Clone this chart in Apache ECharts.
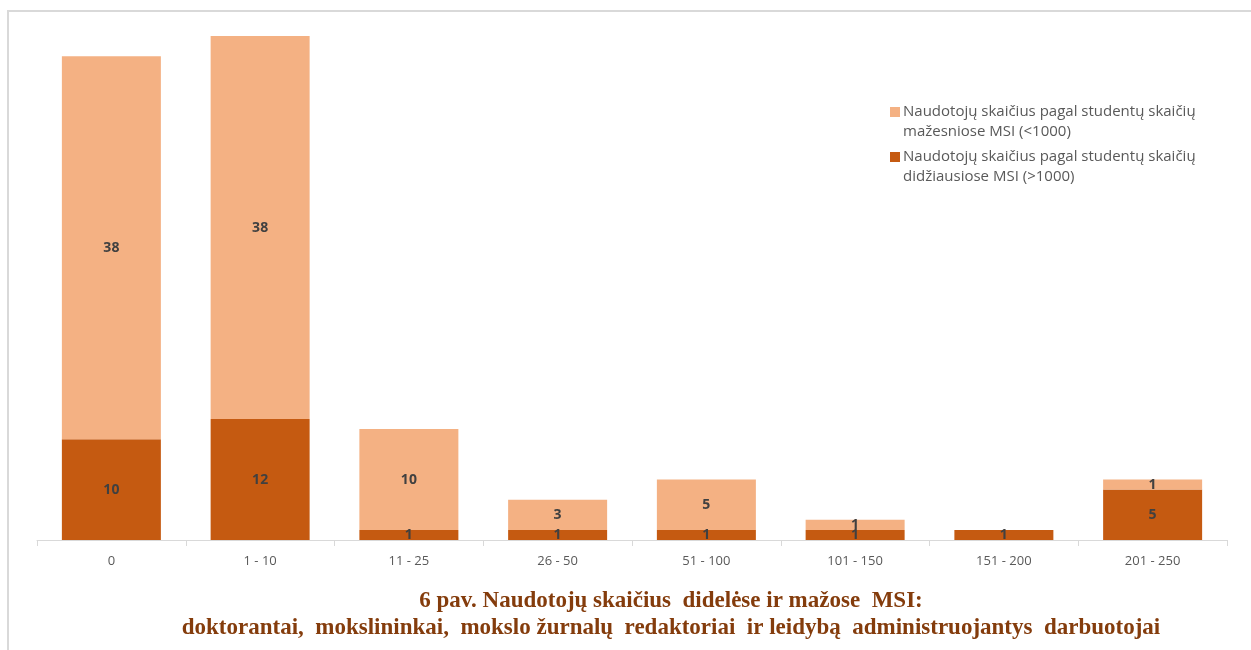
<!DOCTYPE html>
<html>
<head>
<meta charset="utf-8">
<script src="https://cdn.jsdelivr.net/npm/echarts@6/dist/echarts.min.js"></script>
<style>
  html, body { margin: 0; padding: 0; background: #fff; }
  #chart { width: 1251px; height: 650px; }
</style>
</head>
<body>
<div id="chart"></div>
<script>
// duomenys
const categories = ['0', '1 - 10', '11 - 25', '26 - 50', '51 - 100', '101 - 150', '151 - 200', '201 - 250']
const bigMsi = [10, 12, 1, 1, 1, 1, 1, 5]
const smallMsi = [38, 38, 10, 3, 5, 1, 0, 1]
const nameSmall = 'Naudotojų skaičius pagal studentų skaičių mažesniose MSI (<1000)'
const nameBig = 'Naudotojų skaičius pagal studentų skaičių didžiausiose MSI (>1000)'
const titleLines = [
  '6 pav. Naudotojų skaičius  didelėse ir mažose  MSI:',
  'doktorantai,  mokslininkai,  mokslo žurnalų  redaktoriai  ir leidybą  administruojantys  darbuotojai'
]

const myChart = echarts.init(document.getElementById('chart'))

const labelStyle = {
  show: true,
  position: 'inside',
  color: '#404040',
  fontWeight: 'bold',
  fontSize: 14,
  fontFamily: 'Open Sans',
  formatter: function (p) {
    return p.value ? String(p.value) : ''
  }
}

// kvadratėlis legendoje prie pirmos eilutės
const legendIcon = 'path://M0,0L10,0M0,5L10,5L10,15L0,15ZM0,40L10,40'

myChart.setOption({
  animation: false,
  graphic: [
    {
      type: 'polyline',
      shape: { points: [[8, 650], [8, 11], [1251, 11]] },
      style: { stroke: '#d9d9d9', lineWidth: 2, fill: null }
    }
  ],
  title: {
    text: titleLines.join('\n'),
    left: 666,
    top: 583,
    textAlign: 'center',
    textStyle: {
      fontFamily: 'Liberation Serif',
      fontWeight: 'bold',
      fontSize: 23,
      lineHeight: 27,
      color: '#843C0C'
    }
  },
  legend: {
    orient: 'vertical',
    left: 885,
    top: 97,
    itemWidth: 10,
    itemHeight: 40,
    itemGap: 5,
    symbolKeepAspect: false,
    icon: legendIcon,
    data: [nameSmall, nameBig],
    formatter: function (name) {
      return name.replace(' skaičių ', ' skaičių\n')
    },
    textStyle: {
      color: '#595959',
      fontSize: 15,
      lineHeight: 20,
      padding: [0, 0, 0, -2],
      fontFamily: 'Open Sans'
    }
  },
  grid: {
    left: 37,
    right: 24,
    top: 36,
    bottom: 110
  },
  xAxis: {
    type: 'category',
    data: categories,
    axisLine: { lineStyle: { color: '#d9d9d9', width: 1 } },
    axisTick: { show: true, length: 6, lineStyle: { color: '#d9d9d9' } },
    axisLabel: { color: '#595959', fontSize: 13, margin: 15, fontFamily: 'Open Sans' }
  },
  yAxis: {
    type: 'value',
    min: 0,
    max: 50,
    show: false
  },
  series: [
    {
      name: nameBig,
      type: 'bar',
      stack: 'total',
      barWidth: 99,
      data: bigMsi,
      itemStyle: { color: '#C55A11' },
      label: labelStyle
    },
    {
      name: nameSmall,
      type: 'bar',
      stack: 'total',
      barWidth: 99,
      data: smallMsi,
      itemStyle: { color: '#F4B183' },
      label: labelStyle
    }
  ]
})
</script>
</body>
</html>
